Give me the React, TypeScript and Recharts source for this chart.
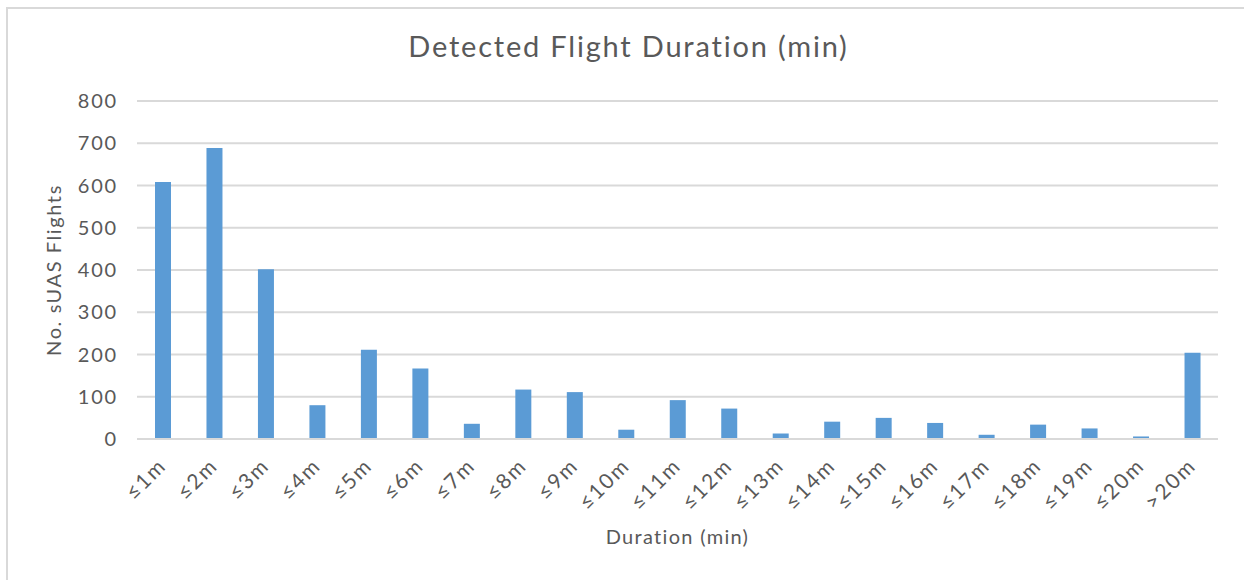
import React from 'react';
import { BarChart, Bar, XAxis, YAxis, CartesianGrid, Label } from 'recharts';

const categories = ['≤1m', '≤2m', '≤3m', '≤4m', '≤5m', '≤6m', '≤7m', '≤8m', '≤9m', '≤10m', '≤11m', '≤12m', '≤13m', '≤14m', '≤15m', '≤16m', '≤17m', '≤18m', '≤19m', '≤20m', '>20m'];
const flights = [608, 689, 402, 80, 211, 167, 36, 117, 111, 22, 92, 72, 13, 41, 50, 38, 10, 34, 25, 6, 204];
const yTicks = [0, 100, 200, 300, 400, 500, 600, 700, 800];

const data = categories.map((c, i) => ({ name: c, value: flights[i] }));

const FONT = 'Lato, "Open Sans", sans-serif';
const TEXT = '#595959';

const XTick = (props: any) => {
  const { x, y, payload } = props;
  return (
    <g transform={`translate(${x + 5},${y + 20})`}>
      <text x={0} y={0} textAnchor="end" transform="rotate(-45)" fill={TEXT} fontSize={21} letterSpacing={2} fontFamily={FONT}>
        {payload.value}
      </text>
    </g>
  );
};

export default function App() {
  return (
    <div style={{ position: 'absolute', left: 0, top: 0, width: 1244, height: 580, overflow: 'hidden', background: '#fff' }}>
      <div style={{ position: 'absolute', left: 6, top: 7, width: 1300, height: 700, border: '2px solid #d9d9d9', boxSizing: 'border-box' }} />
      <div style={{ position: 'absolute', left: 0, top: 26, width: 1257, textAlign: 'center', fontFamily: FONT, fontSize: 29, letterSpacing: 1.8, color: TEXT, lineHeight: '40px' }}>
        Detected Flight Duration (min)
      </div>
      <div style={{ position: 'absolute', left: 0, top: 0 }}>
        <BarChart width={1244} height={580} data={data} margin={{ top: 101, right: 26, left: 0, bottom: 31 }}>
          <CartesianGrid vertical={false} stroke="#d9d9d9" strokeWidth={2} />
          <XAxis dataKey="name" height={110} tick={<XTick />} tickLine={false} axisLine={{ stroke: '#d9d9d9', strokeWidth: 2 }} interval={0}>
            <Label value="Duration (min)" position="insideBottom" offset={5} fill={TEXT} fontSize={20} letterSpacing={1.3} fontFamily={FONT} />
          </XAxis>
          <YAxis width={137} domain={[0, 800]} ticks={yTicks} tickLine={false} axisLine={false} tickSize={0} tickMargin={19}
            tick={{ fill: TEXT, fontSize: 20, fontFamily: FONT, letterSpacing: 1.8 }}>
            <Label value="No. sUAS Flights" angle={-90} position="insideLeft" offset={54} style={{ textAnchor: 'middle' }} fill={TEXT} fontSize={20} letterSpacing={1.6} fontFamily={FONT} />
          </YAxis>
          <Bar dataKey="value" fill="#5b9bd5" barSize={16} isAnimationActive={false} />
        </BarChart>
      </div>
    </div>
  );
}
